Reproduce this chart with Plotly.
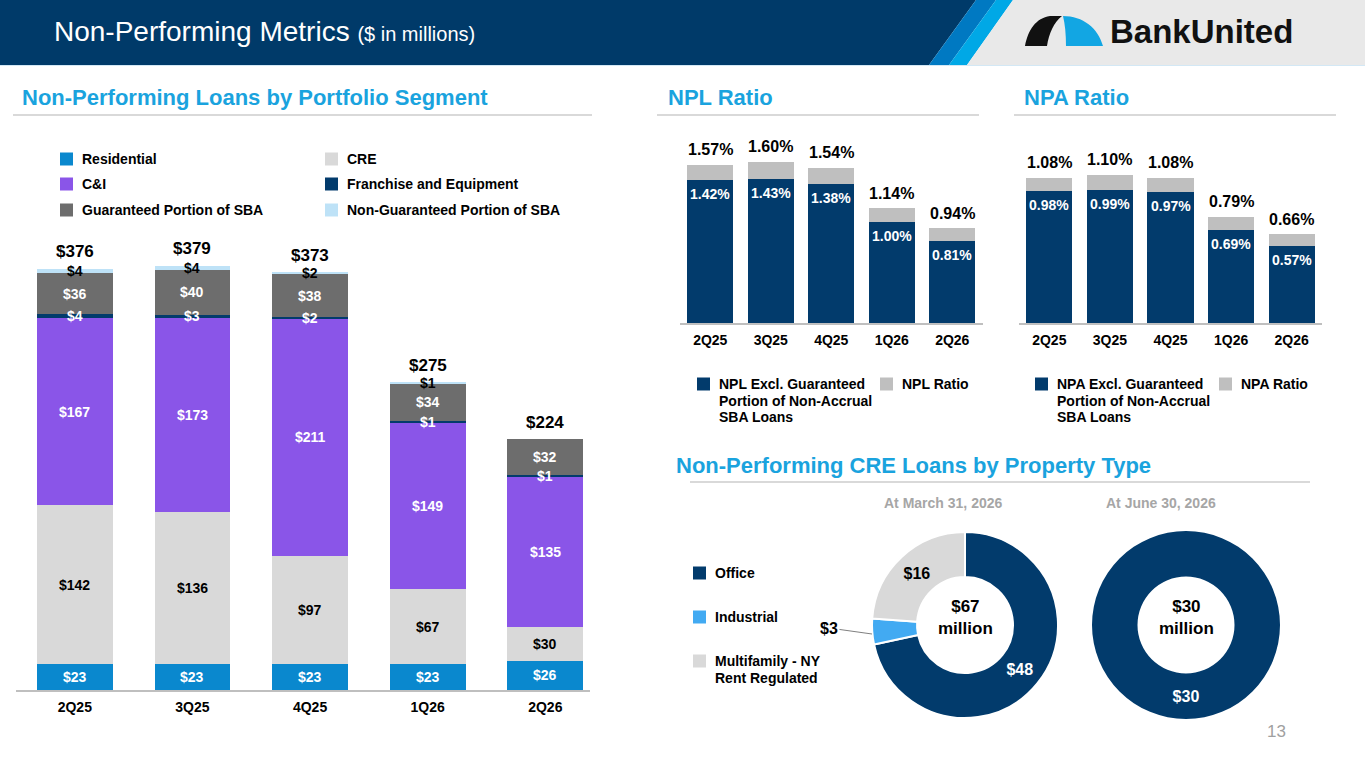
import plotly.graph_objects as go

W, H = 1365, 768

# ---- data ($ in millions / %) ----
quarters = ['2Q25', '3Q25', '4Q25', '1Q26', '2Q26']
residential = [23, 23, 23, 23, 26]
cre = [142, 136, 97, 67, 30]
c_and_i = [167, 173, 211, 149, 135]
franchise = [4, 3, 2, 1, 1]
sba_guaranteed = [36, 40, 38, 34, 32]
sba_non_guaranteed = [4, 4, 2, 1, 0]

npl_ratio = [1.57, 1.60, 1.54, 1.14, 0.94]
npl_excl = [1.42, 1.43, 1.38, 1.00, 0.81]
npa_ratio = [1.08, 1.10, 1.08, 0.79, 0.66]
npa_excl = [0.98, 0.99, 0.97, 0.69, 0.57]

property_types = ['Office', 'Industrial', 'Multifamily - NY Rent Regulated']
cre_mar26 = [48, 3, 16]
cre_jun26 = [30]

# ---- colours ----
NAVY = '#023B6C'
RES_BLUE = '#0A88CE'
CRE_GREY = '#D9D9D9'
PURPLE = '#8A55E8'
SBA_GREY = '#6D6D6D'
SBA_LIGHT = '#BEE2F7'
RATIO_GREY = '#BFBFBF'
IND_BLUE = '#42AAF2'
TITLE_BLUE = '#1AA3DE'
LINE_GREY = '#D9D9D9'
FONT = 'Liberation Sans, Arial, sans-serif'


def X(px):
    return px / W


def Y(py):
    return 1 - py / H


def poly(points):
    s = 'M ' + ' L '.join(f'{X(a):.5f},{Y(b):.5f}' for a, b in points)
    return s + ' Z'


def curve_path(cmds):
    out = []
    for c in cmds:
        if c[0] == 'Z':
            out.append('Z')
            continue
        pts = c[1:]
        coords = [f'{X(pts[i]):.5f},{Y(pts[i + 1]):.5f}' for i in range(0, len(pts), 2)]
        out.append(c[0] + ' ' + ' '.join(coords))
    return ' '.join(out)


fig = go.Figure()
annotations = []
shapes = []

# ---- left stacked bars ----
segments = [
    ('Residential', residential, RES_BLUE, 'white'),
    ('CRE', cre, CRE_GREY, 'black'),
    ('C&I', c_and_i, PURPLE, 'white'),
    ('Franchise and Equipment', franchise, NAVY, 'white'),
    ('Guaranteed Portion of SBA', sba_guaranteed, SBA_GREY, 'white'),
    ('Non-Guaranteed Portion of SBA', sba_non_guaranteed, SBA_LIGHT, 'black'),
]
base = [0] * len(quarters)
for name, vals, color, tcolor in segments:
    fig.add_trace(go.Bar(x=quarters, y=vals, name=name, width=0.643,
                         marker=dict(color=color, line=dict(width=0)),
                         xaxis='x', yaxis='y', hoverinfo='skip'))
    for i, v in enumerate(vals):
        if v > 0:
            annotations.append(dict(x=quarters[i], y=base[i] + v / 2, xref='x', yref='y',
                                    text=f'${v}', showarrow=False,
                                    font=dict(size=14, color=tcolor, weight='bold')))
        base[i] += v
for i, t in enumerate(base):
    annotations.append(dict(x=quarters[i], y=t, xref='x', yref='y', yshift=17,
                            text=f'${t}', showarrow=False,
                            font=dict(size=17, color='black', weight='bold')))


# ---- NPL / NPA ratio bars ----
def ratio_chart(total, excl, xa, ya):
    rest = [round(t - e, 2) for t, e in zip(total, excl)]
    fig.add_trace(go.Bar(x=quarters, y=excl, width=0.76, marker=dict(color=NAVY, line=dict(width=0)),
                         xaxis=xa, yaxis=ya, hoverinfo='skip'))
    fig.add_trace(go.Bar(x=quarters, y=rest, width=0.76, marker=dict(color=RATIO_GREY, line=dict(width=0)),
                         xaxis=xa, yaxis=ya, hoverinfo='skip'))
    for i in range(len(quarters)):
        annotations.append(dict(x=quarters[i], y=total[i], xref=xa, yref=ya, yshift=15,
                                text=f'{total[i]:.2f}%', showarrow=False,
                                font=dict(size=16, color='black', weight='bold')))
        annotations.append(dict(x=quarters[i], y=excl[i], xref=xa, yref=ya, yshift=-14,
                                text=f'{excl[i]:.2f}%', showarrow=False,
                                font=dict(size=14, color='white', weight='bold')))


ratio_chart(npl_ratio, npl_excl, 'x2', 'y2')
ratio_chart(npa_ratio, npa_excl, 'x3', 'y3')

# ---- donuts ----
fig.add_trace(go.Pie(labels=property_types, values=cre_mar26, sort=False, direction='clockwise',
                     rotation=0, hole=0.516,
                     text=[f'${v}' for v in cre_mar26], textinfo='text',
                     textposition=['inside', 'none', 'inside'],
                     insidetextorientation='horizontal',
                     textfont=dict(size=16, color=['white', 'black', 'black'], weight='bold'),
                     marker=dict(colors=[NAVY, IND_BLUE, CRE_GREY], line=dict(color='white', width=2)),
                     domain=dict(x=[X(871), X(1059)], y=[Y(718), Y(532)]),
                     hoverinfo='skip', showlegend=False))
fig.add_trace(go.Pie(labels=property_types[:1], values=cre_jun26, sort=False, direction='clockwise',
                     rotation=0, hole=0.516,
                     text=[f'${v}' for v in cre_jun26], textinfo='text', textposition='inside',
                     insidetextorientation='horizontal',
                     textfont=dict(size=16, color='white', weight='bold'),
                     marker=dict(colors=[NAVY], line=dict(width=0)),
                     domain=dict(x=[X(1092), X(1280)], y=[Y(719), Y(531)]),
                     hoverinfo='skip', showlegend=False))

annotations.append(dict(x=X(872), y=Y(634), xref='paper', yref='paper', text=f'${cre_mar26[1]}',
                        showarrow=True, arrowhead=0, arrowwidth=1, arrowcolor='#808080',
                        ax=-43, ay=-6, standoff=0,
                        font=dict(size=16, color='black', weight='bold')))
annotations.append(dict(x=X(965), y=Y(617), xref='paper', yref='paper',
                        text=f'${sum(cre_mar26)}<br>million', showarrow=False,
                        font=dict(size=17, color='black', weight='bold')))
annotations.append(dict(x=X(1186), y=Y(617), xref='paper', yref='paper',
                        text=f'${sum(cre_jun26)}<br>million', showarrow=False,
                        font=dict(size=17, color='black', weight='bold')))
annotations.append(dict(x=X(943), y=Y(503), xref='paper', yref='paper', text='At March 31, 2026',
                        showarrow=False, font=dict(size=14, color='#A6A6A6', weight='bold')))
annotations.append(dict(x=X(1161), y=Y(503), xref='paper', yref='paper', text='At June 30, 2026',
                        showarrow=False, font=dict(size=14, color='#A6A6A6', weight='bold')))

# ---- header ----
shapes.append(dict(type='path', path=poly([(0, 0), (976, 0), (929, 65), (0, 65)]),
                   xref='paper', yref='paper', fillcolor='#003A69', line=dict(width=0), layer='below'))
shapes.append(dict(type='path', path=poly([(976, 0), (996, 0), (949, 65), (929, 65)]),
                   xref='paper', yref='paper', fillcolor='#0079C2', line=dict(width=0), layer='below'))
shapes.append(dict(type='path', path=poly([(996, 0), (1013, 0), (967, 65), (949, 65)]),
                   xref='paper', yref='paper', fillcolor='#00A8E6', line=dict(width=0), layer='below'))
shapes.append(dict(type='path', path=poly([(1013, 0), (1365, 0), (1365, 65), (967, 65)]),
                   xref='paper', yref='paper', fillcolor='#E9E9E9', line=dict(width=0), layer='below'))
shapes.append(dict(type='line', x0=0, x1=1, y0=Y(65.5), y1=Y(65.5), xref='paper', yref='paper',
                   line=dict(color='#D3E8F5', width=1)))
# logo
shapes.append(dict(type='path', xref='paper', yref='paper', fillcolor='#111111', line=dict(width=0),
                   path=curve_path([('M', 1025, 46), ('C', 1028, 30, 1036, 18, 1050, 16),
                                    ('L', 1062, 16), ('C', 1054, 22, 1049, 33, 1047, 46), ('Z',)])))
shapes.append(dict(type='path', xref='paper', yref='paper', fillcolor='#12A6E3', line=dict(width=0),
                   path=curve_path([('M', 1063, 16), ('C', 1083, 16, 1098, 28, 1103, 46),
                                    ('L', 1066, 46), ('C', 1066, 34, 1065, 24, 1063, 16), ('Z',)])))
annotations.append(dict(x=X(1108), y=Y(31), xref='paper', yref='paper', xanchor='left',
                        text='BankUnited', showarrow=False,
                        font=dict(size=33, color='#111111', weight='bold')))
annotations.append(dict(x=X(52), y=Y(32), xref='paper', yref='paper', xanchor='left',
                        text="Non-Performing Metrics <span style='font-size:20px'>($ in millions)</span>",
                        showarrow=False, font=dict(size=28, color='white')))

# ---- section titles + rules ----
for txt, xp, yp in [('Non-Performing Loans by Portfolio Segment', 20, 97), ('NPL Ratio', 666, 97),
                    ('NPA Ratio', 1022, 97), ('Non-Performing CRE Loans by Property Type', 674, 465)]:
    annotations.append(dict(x=X(xp), y=Y(yp), xref='paper', yref='paper', xanchor='left', text=txt,
                            showarrow=False, font=dict(size=22, color=TITLE_BLUE, weight='bold')))
for x0, x1, yp in [(13, 592, 115), (657, 979, 115), (1014, 1336, 115), (690, 1310, 482)]:
    shapes.append(dict(type='line', xref='paper', yref='paper', x0=X(x0), x1=X(x1), y0=Y(yp), y1=Y(yp),
                       line=dict(color=LINE_GREY, width=2)))


# ---- legends ----
def legend_item(x, y, color, lines, size=14):
    shapes.append(dict(type='rect', xref='paper', yref='paper', x0=X(x), x1=X(x + 13),
                       y0=Y(y + 6.5), y1=Y(y - 6.5), fillcolor=color, line=dict(width=0)))
    for k, ln in enumerate(lines):
        annotations.append(dict(x=X(x + 20), y=Y(y + k * 16.5), xref='paper', yref='paper',
                                xanchor='left', text=ln, showarrow=False,
                                font=dict(size=size, color='black', weight='bold')))


legend_item(60, 159, RES_BLUE, ['Residential'])
legend_item(60, 184, PURPLE, ['C&I'])
legend_item(60, 210, SBA_GREY, ['Guaranteed Portion of SBA'])
legend_item(325, 159, CRE_GREY, ['CRE'])
legend_item(325, 184, NAVY, ['Franchise and Equipment'])
legend_item(325, 210, SBA_LIGHT, ['Non-Guaranteed Portion of SBA'])

legend_item(697, 384, NAVY, ['NPL Excl. Guaranteed', 'Portion of Non-Accrual', 'SBA Loans'])
legend_item(880, 384, RATIO_GREY, ['NPL Ratio'])
legend_item(1035, 384, NAVY, ['NPA Excl. Guaranteed', 'Portion of Non-Accrual', 'SBA Loans'])
legend_item(1219, 384, RATIO_GREY, ['NPA Ratio'])

legend_item(693, 573, NAVY, ['Office'])
legend_item(693, 617, IND_BLUE, ['Industrial'])
legend_item(693, 661, CRE_GREY, ['Multifamily - NY', 'Rent Regulated'])

annotations.append(dict(x=X(1276), y=Y(731), xref='paper', yref='paper', text='13', showarrow=False,
                        font=dict(size=17, color='#A0A0A0')))

for a in annotations:
    a.setdefault('xanchor', 'center')
    a.setdefault('yanchor', 'middle')

# ---- axes ----
cat_axis = dict(type='category', showgrid=False, zeroline=False, showline=True,
                linecolor='#BFBFBF', linewidth=2, ticks='outside', ticklen=3,
                tickcolor='rgba(0,0,0,0)', tickfont=dict(size=14, color='black', weight='bold'),
                fixedrange=True)
hidden_y = dict(visible=False, showgrid=False, zeroline=False, fixedrange=True)

fig.update_layout(
    width=W, height=H,
    margin=dict(l=0, r=0, t=0, b=0),
    paper_bgcolor='white', plot_bgcolor='rgba(0,0,0,0)',
    barmode='stack', showlegend=False,
    font=dict(family=FONT, color='black'),
    xaxis=dict(cat_axis, domain=[X(16), X(590)], range=[-0.5, 4.38], anchor='y'),
    yaxis=dict(hidden_y, domain=[Y(690), Y(242)], range=[0, 400], anchor='x'),
    xaxis2=dict(cat_axis, domain=[X(680), X(982.5)], range=[-0.5, 4.5], anchor='y2'),
    yaxis2=dict(hidden_y, domain=[Y(323.3), Y(121.3)], range=[0, 2.0], anchor='x2'),
    xaxis3=dict(cat_axis, domain=[X(1019), X(1322)], range=[-0.5, 4.5], anchor='y3'),
    yaxis3=dict(hidden_y, domain=[Y(323.3), Y(120.8)], range=[0, 1.5], anchor='x3'),
    annotations=annotations,
    shapes=shapes,
)

fig.write_html("out.html", config={'displayModeBar': False},
               post_script="document.body.style.margin='0';document.body.style.overflow='hidden';")
